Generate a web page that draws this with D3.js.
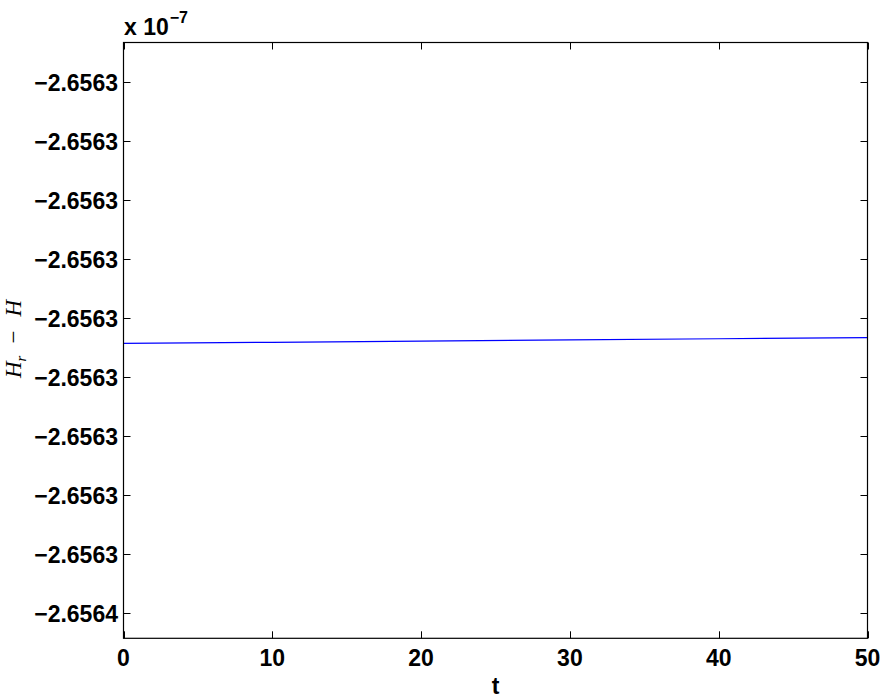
<!DOCTYPE html>
<html>
<head>
<meta charset="utf-8">
<script src="https://cdn.jsdelivr.net/npm/d3@7"></script>
<style>
  html, body { margin: 0; padding: 0; background: #fff; }
  svg { display: block; }
  .tick-label { font-family: "Liberation Sans", Arial, Helvetica, sans-serif; font-weight: bold; font-size: 23px; fill: #000; }
</style>
</head>
<body>
<svg id="chart" width="886" height="700"></svg>
<script>
// ---- data (y values in units of 1e-7) ----
const tValues = [0, 10, 20, 30, 40, 50];
const hDiff = [-2.65634544, -2.65634542, -2.65634540, -2.65634538, -2.65634536, -2.65634534];
const xTicks = [0, 10, 20, 30, 40, 50];
const yTicks = [-2.656350, -2.656349, -2.656348, -2.656347, -2.656346, -2.656345, -2.656344, -2.656343, -2.656342, -2.656341];
const yTickLabels = ["\u22122.6564", "\u22122.6563", "\u22122.6563", "\u22122.6563", "\u22122.6563", "\u22122.6563", "\u22122.6563", "\u22122.6563", "\u22122.6563", "\u22122.6563"];
const xDomain = [0, 50];
const yDomain = [-2.656350437, -2.656340339];

(function () {
const pL = 123.5, pR = 867.5, pT = 42.5, pB = 638.3;
const svg = d3.select("#chart");

const x = d3.scaleLinear().domain(xDomain).range([pL, pR]);
const y = d3.scaleLinear().domain(yDomain).range([pB, pT]);

const tickLen = 7;
const g = svg.append("g");

// tick marks (inward, mirrored on all sides)
xTicks.forEach(v => {
  const px = Math.round(x(v)) + 0.5;
  g.append("line").attr("x1", px).attr("x2", px).attr("y1", pB).attr("y2", pB - tickLen).attr("stroke", "#000").attr("stroke-width", 1);
  g.append("line").attr("x1", px).attr("x2", px).attr("y1", pT).attr("y2", pT + tickLen).attr("stroke", "#000").attr("stroke-width", 1);
});
yTicks.forEach(v => {
  const py = Math.round(y(v)) + 0.5;
  g.append("line").attr("x1", pL).attr("x2", pL + tickLen).attr("y1", py).attr("y2", py).attr("stroke", "#000").attr("stroke-width", 1);
  g.append("line").attr("x1", pR).attr("x2", pR - tickLen).attr("y1", py).attr("y2", py).attr("stroke", "#000").attr("stroke-width", 1);
});

// data line
const line = d3.line().x((d, i) => x(tValues[i])).y(d => y(d));
g.append("path").datum(hDiff)
  .attr("d", line)
  .attr("fill", "none")
  .attr("stroke", "#0000ff")
  .attr("stroke-width", 1.2);

// box
g.append("rect").attr("x", pL).attr("y", pT).attr("width", pR - pL).attr("height", pB - pT)
  .attr("fill", "none").attr("stroke", "#000").attr("stroke-width", 1.2);

// tick labels
xTicks.forEach(v => {
  g.append("text").attr("class", "tick-label").attr("x", x(v)).attr("y", 666)
    .attr("text-anchor", "middle").text(v);
});
yTicks.forEach((v, i) => {
  g.append("text").attr("class", "tick-label").attr("x", 118).attr("y", y(v) + 9.5)
    .attr("text-anchor", "end").text(yTickLabels[i]);
});

// exponent label
const ex = g.append("text").attr("class", "tick-label").attr("x", 124).attr("y", 35);
ex.append("tspan").text("x 10");
ex.append("tspan").attr("dy", -12).attr("dx", 1).style("font-size", "16px").text("\u22127");

// x label
g.append("text").attr("class", "tick-label").attr("x", x(25)).attr("y", 694)
  .attr("text-anchor", "middle").text("t");

// y label
const yl = g.append("text")
  .attr("transform", "translate(21,378) rotate(-90)")
  .attr("text-anchor", "start")
  .style("font-family", "'Liberation Serif', 'DejaVu Serif', serif")
  .style("font-size", "23px")
  .style("fill", "#000");
yl.append("tspan").style("font-style", "italic").text("H");
yl.append("tspan").attr("dy", 5).style("font-style", "italic").style("font-size", "15px").text("r");
yl.append("tspan").attr("dy", -5).attr("dx", 12).text("\u2212");
yl.append("tspan").attr("dx", 14).style("font-style", "italic").text("H");
})();
</script>
</body>
</html>
